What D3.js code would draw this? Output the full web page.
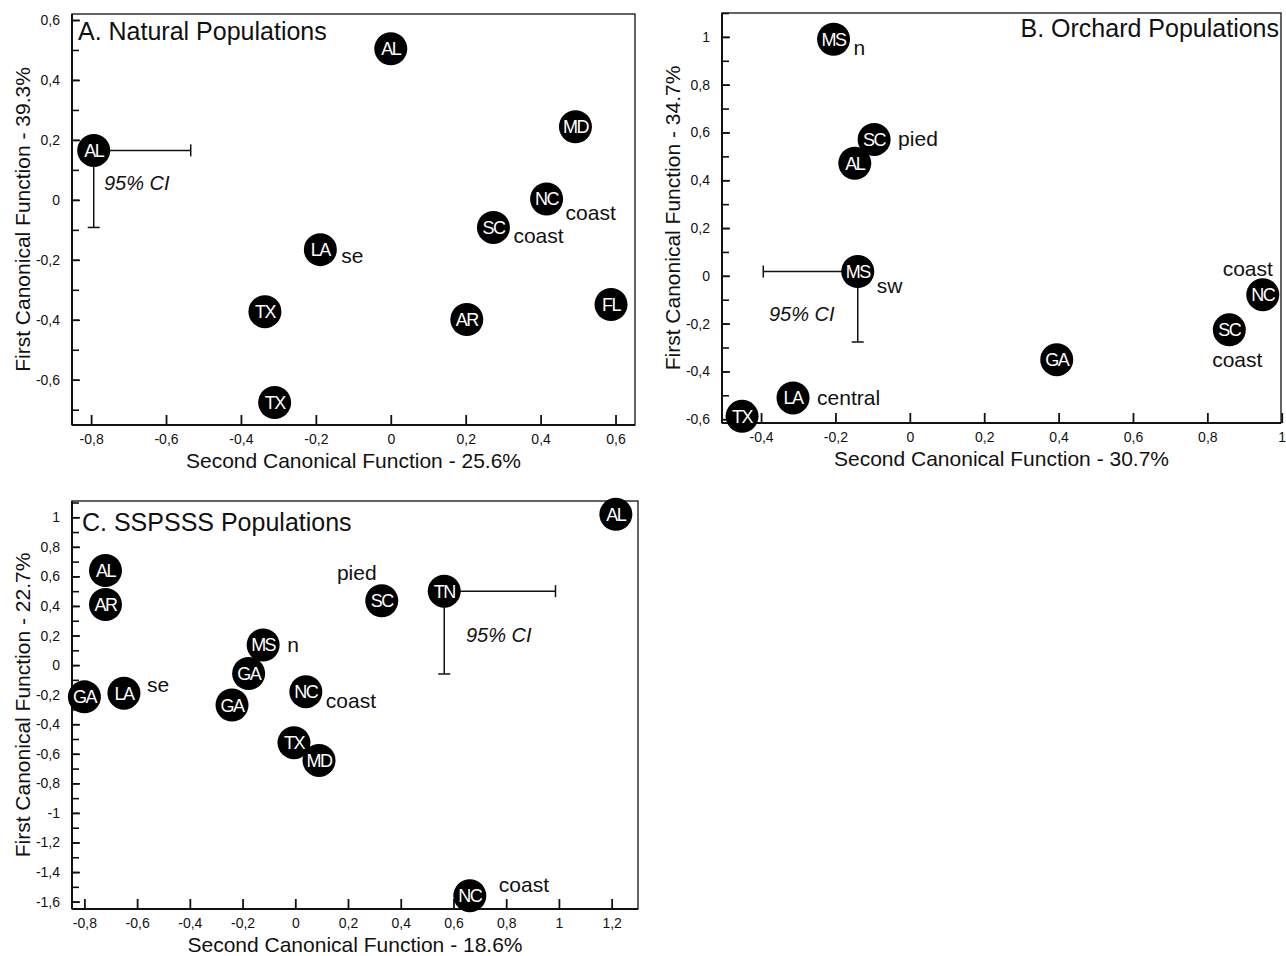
<!DOCTYPE html>
<html>
<head>
<meta charset="utf-8">
<script src="https://cdn.jsdelivr.net/npm/d3@7"></script>
<style>
  body { margin: 0; background: #fff; }
  svg { display: block; font-family: "Liberation Sans", Arial, sans-serif; }
</style>
</head>
<body>
<svg id="chart" width="1286" height="956"></svg>
<script>
// --- data ---
const naturalPops = [
  { st: "AL", x: 0.0,    y: 0.504 },
  { st: "AL", x: -0.793, y: 0.165 },
  { st: "MD", x: 0.493,  y: 0.244 },
  { st: "NC", x: 0.416,  y: 0.003,  note: "coast", at: "rightLow" },
  { st: "SC", x: 0.274,  y: -0.092, note: "coast", at: "rightMid" },
  { st: "LA", x: -0.188, y: -0.166, note: "se",    at: "rightSub" },
  { st: "TX", x: -0.336, y: -0.373 },
  { st: "AR", x: 0.203,  y: -0.399 },
  { st: "FL", x: 0.588,  y: -0.349 },
  { st: "TX", x: -0.31,  y: -0.676 }
];
const orchardPops = [
  { st: "MS", x: -0.205, y: 0.99,   note: "n",       at: "rightMid" },
  { st: "SC", x: -0.096, y: 0.571,  note: "pied",    at: "right" },
  { st: "AL", x: -0.148, y: 0.471 },
  { st: "MS", x: -0.14,  y: 0.018,  note: "sw",      at: "rightLow" },
  { st: "GA", x: 0.395,  y: -0.351 },
  { st: "NC", x: 0.949,  y: -0.079, note: "coast",   at: "above" },
  { st: "SC", x: 0.859,  y: -0.226, note: "coast",   at: "below" },
  { st: "TX", x: -0.451, y: -0.588 },
  { st: "LA", x: -0.314, y: -0.511, note: "central", at: "right" }
];
const ssp3Pops = [
  { st: "AL", x: 1.216,  y: 1.02 },
  { st: "AL", x: -0.72,  y: 0.64 },
  { st: "AR", x: -0.72,  y: 0.41 },
  { st: "SC", x: 0.328,  y: 0.435,  note: "pied",  at: "aboveLeft" },
  { st: "TN", x: 0.565,  y: 0.5 },
  { st: "MS", x: -0.122, y: 0.136,  note: "n",     at: "right" },
  { st: "GA", x: -0.177, y: -0.057 },
  { st: "GA", x: -0.8,   y: -0.215 },
  { st: "LA", x: -0.65,  y: -0.19,  note: "se",    at: "rightHigh" },
  { st: "GA", x: -0.24,  y: -0.27 },
  { st: "NC", x: 0.04,   y: -0.18,  note: "coast", at: "rightMid" },
  { st: "TX", x: -0.005, y: -0.525 },
  { st: "MD", x: 0.09,   y: -0.645 },
  { st: "NC", x: 0.662,  y: -1.56,  note: "coast", at: "rightUp" }
];

// 95% confidence interval bars: centre point and the far ends
const ciNatural = { x: -0.793, y: 0.165, x2: -0.534, y2: -0.092 };
const ciOrchard = { x: -0.14,  y: 0.018, x2: -0.394, y2: -0.277 };
const ciSsp3    = { x: 0.565,  y: 0.5,   x2: 0.987,  y2: -0.06 };

const xTicksA = [-0.8, -0.6, -0.4, -0.2, 0, 0.2, 0.4, 0.6];
const yTicksA = [-0.6, -0.4, -0.2, 0, 0.2, 0.4, 0.6];
const xTicksB = [-0.4, -0.2, 0, 0.2, 0.4, 0.6, 0.8, 1];
const yTicksB = [-0.6, -0.4, -0.2, 0, 0.2, 0.4, 0.6, 0.8, 1];
const xTicksC = [-0.8, -0.6, -0.4, -0.2, 0, 0.2, 0.4, 0.6, 0.8, 1, 1.2];
const yTicksC = [-1.6, -1.4, -1.2, -1, -0.8, -0.6, -0.4, -0.2, 0, 0.2, 0.4, 0.6, 0.8, 1];

const svg = d3.select("#chart");
const fmt = d => (Math.round(d * 10) / 10).toString().replace(".", ",");

// where the small region words sit relative to their dot
const noteOffset = {
  rightLow:  { dx: 19,  dy: 21, anchor: "start" },
  rightMid:  { dx: 20,  dy: 16, anchor: "start" },
  rightSub:  { dx: 21,  dy: 13, anchor: "start" },
  right:     { dx: 24,  dy: 7,  anchor: "start" },
  rightHigh: { dx: 23,  dy: -1, anchor: "start" },
  rightUp:   { dx: 29,  dy: -4, anchor: "start" },
  above:     { dx: -15, dy: -19, anchor: "middle" },
  below:     { dx: 8,   dy: 37, anchor: "middle" },
  aboveLeft: { dx: -25, dy: -21, anchor: "middle" }
};

function drawPanel(cfg) {
  const x = d3.scaleLinear().domain(cfg.xDom).range([cfg.left, cfg.right]);
  const y = d3.scaleLinear().domain(cfg.yDom).range([cfg.bottom, cfg.top]);
  const g = svg.append("g");

  // frame
  g.append("rect")
    .attr("x", cfg.left).attr("y", cfg.top)
    .attr("width", cfg.right - cfg.left).attr("height", cfg.bottom - cfg.top)
    .attr("fill", "none").attr("stroke", "#111").attr("stroke-width", 1.3);
  g.append("line").attr("x1", cfg.left).attr("x2", cfg.left)
    .attr("y1", cfg.top).attr("y2", cfg.bottom).attr("stroke", "#111").attr("stroke-width", 2);
  g.append("line").attr("x1", cfg.left).attr("x2", cfg.right)
    .attr("y1", cfg.bottom).attr("y2", cfg.bottom).attr("stroke", "#111").attr("stroke-width", 2);

  // y minor ticks every 0.1
  const yMinor = d3.range(Math.ceil(cfg.yDom[0] * 10), Math.floor(cfg.yDom[1] * 10) + 1).map(v => v / 10);
  const yMin = g.append("g").attr("transform", `translate(${cfg.left},0)`)
    .call(d3.axisLeft(y).tickValues(yMinor).tickSize(-7).tickFormat(""));
  yMin.select(".domain").remove();
  yMin.selectAll("line").attr("stroke", "#111").attr("stroke-width", 1.6);

  const yAx = g.append("g").attr("transform", `translate(${cfg.left},0)`)
    .call(d3.axisLeft(y).tickValues(cfg.yTicks).tickSize(-8).tickPadding(12).tickFormat(fmt));
  yAx.select(".domain").remove();
  yAx.selectAll("line").attr("stroke", "#111").attr("stroke-width", 1.6);
  yAx.selectAll("text").attr("font-size", 14).attr("fill", "#111")
    .attr("font-family", "'Liberation Sans', Arial, sans-serif");

  const xAx = g.append("g").attr("transform", `translate(0,${cfg.bottom})`)
    .call(d3.axisBottom(x).tickValues(cfg.xTicks).tickSize(-10).tickPadding(9).tickFormat(fmt));
  xAx.select(".domain").remove();
  xAx.selectAll("line").attr("stroke", "#111").attr("stroke-width", 1.8);
  xAx.selectAll("text").attr("font-size", 14).attr("fill", "#111")
    .attr("font-family", "'Liberation Sans', Arial, sans-serif");

  // axis titles
  g.append("text")
    .attr("x", (cfg.left + cfg.right) / 2).attr("y", cfg.bottom + 43)
    .attr("text-anchor", "middle").attr("font-size", 21).attr("fill", "#111")
    .text(cfg.xTitle);
  g.append("text")
    .attr("transform", `translate(${cfg.left - 42},${(cfg.top + cfg.bottom) / 2}) rotate(-90)`)
    .attr("text-anchor", "middle").attr("font-size", 21).attr("fill", "#111")
    .text(cfg.yTitle);

  // panel title
  g.append("text")
    .attr("x", cfg.titleX).attr("y", cfg.titleY)
    .attr("text-anchor", cfg.titleAnchor).attr("font-size", 25).attr("fill", "#111")
    .text(cfg.title);

  // confidence interval
  const ci = cfg.ci;
  g.append("line").attr("x1", x(ci.x)).attr("x2", x(ci.x2)).attr("y1", y(ci.y)).attr("y2", y(ci.y))
    .attr("stroke", "#111").attr("stroke-width", 1.5);
  g.append("line").attr("x1", x(ci.x2)).attr("x2", x(ci.x2)).attr("y1", y(ci.y) - 6).attr("y2", y(ci.y) + 6)
    .attr("stroke", "#111").attr("stroke-width", 1.5);
  g.append("line").attr("x1", x(ci.x)).attr("x2", x(ci.x)).attr("y1", y(ci.y)).attr("y2", y(ci.y2))
    .attr("stroke", "#111").attr("stroke-width", 1.5);
  g.append("line").attr("x1", x(ci.x) - 6).attr("x2", x(ci.x) + 6).attr("y1", y(ci.y2)).attr("y2", y(ci.y2))
    .attr("stroke", "#111").attr("stroke-width", 1.5);
  g.append("text")
    .attr("x", cfg.ciText[0]).attr("y", cfg.ciText[1])
    .attr("font-size", 20).attr("font-style", "italic").attr("fill", "#111")
    .text("95% CI");

  // dots
  const dots = g.selectAll(".dot").data(cfg.data).enter().append("g").attr("class", "dot")
    .attr("transform", d => `translate(${x(d.x)},${y(d.y)})`);
  dots.append("circle").attr("r", 16.5).attr("fill", "#000");
  dots.append("text")
    .attr("text-anchor", "middle").attr("dy", 6.5)
    .attr("font-size", 18).attr("letter-spacing", -1.5).attr("fill", "#fff")
    .text(d => d.st);

  // region notes
  g.selectAll(".note").data(cfg.data.filter(d => d.note)).enter().append("text")
    .attr("x", d => x(d.x) + noteOffset[d.at].dx)
    .attr("y", d => y(d.y) + noteOffset[d.at].dy)
    .attr("text-anchor", d => noteOffset[d.at].anchor)
    .attr("font-size", 21).attr("fill", "#111")
    .text(d => d.note);
}

drawPanel({
  data: naturalPops, ci: ciNatural,
  xDom: [-0.851, 0.652], yDom: [-0.751, 0.62],
  left: 72, right: 635, top: 14, bottom: 425,
  xTicks: xTicksA, yTicks: yTicksA,
  xTitle: "Second Canonical Function - 25.6%",
  yTitle: "First Canonical Function - 39.3%",
  title: "A. Natural Populations", titleX: 78, titleY: 40, titleAnchor: "start",
  ciText: [104, 190]
});

drawPanel({
  data: orchardPops, ci: ciOrchard,
  xDom: [-0.505, 0.998], yDom: [-0.616, 1.10],
  left: 722, right: 1281, top: 13, bottom: 423,
  xTicks: xTicksB, yTicks: yTicksB,
  xTitle: "Second Canonical Function - 30.7%",
  yTitle: "First Canonical Function - 34.7%",
  title: "B. Orchard Populations", titleX: 1279, titleY: 37, titleAnchor: "end",
  ciText: [769, 321]
});

drawPanel({
  data: ssp3Pops, ci: ciSsp3,
  xDom: [-0.847, 1.30], yDom: [-1.65, 1.11],
  left: 72, right: 638, top: 501, bottom: 909,
  xTicks: xTicksC, yTicks: yTicksC,
  xTitle: "Second Canonical Function - 18.6%",
  yTitle: "First Canonical Function - 22.7%",
  title: "C. SSPSSS Populations", titleX: 82, titleY: 531, titleAnchor: "start",
  ciText: [466, 642]
});
</script>
</body>
</html>
